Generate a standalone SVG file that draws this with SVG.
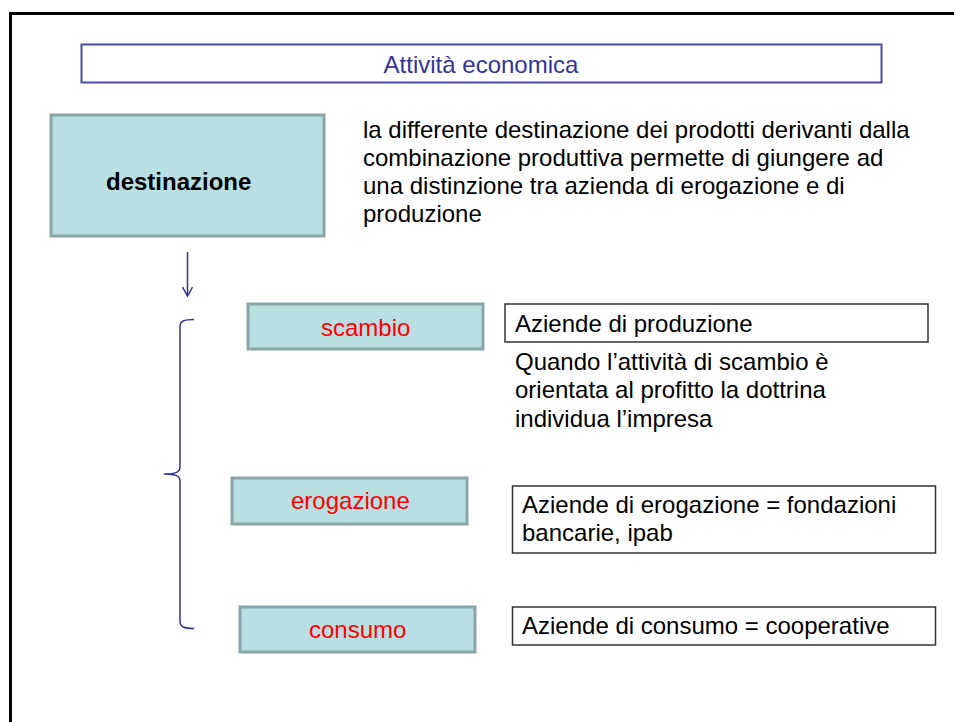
<svg xmlns="http://www.w3.org/2000/svg" width="954" height="722" viewBox="0 0 954 722">
<style>
text{font-family:"Liberation Sans",Arial,sans-serif;font-size:24px}
.teal{fill:#b9dfe2;stroke:#8aa5a8;stroke-width:3}
.red{fill:#ff0000}
.box{fill:#ffffff;stroke:#333333;stroke-width:1.5}
.blk{fill:#000000}
.conn{fill:none;stroke:#333399;stroke-width:1.5}
</style>
<defs>
<marker id="arr" markerWidth="12" markerHeight="12" refX="10" refY="6" orient="auto" markerUnits="userSpaceOnUse" viewBox="0 0 12 12">
<path d="M1,1 L10,6 L1,11" fill="none" stroke="#333399" stroke-width="1.5"/>
</marker>
</defs>
<rect width="954" height="722" fill="#ffffff"/>
<path d="M10.5,722 L10.5,13.5 L954,13.5" fill="none" stroke="#000000" stroke-width="3"/>
<g id="title">
<rect x="81.5" y="44.5" width="800" height="38" fill="#ffffff" stroke="#4b4ba6" stroke-width="2"/>
<text x="481" y="73" text-anchor="middle" fill="#333399">Attività economica</text>
</g>
<g id="destinazione">
<rect class="teal" x="51" y="115" width="273" height="121"/>
<text x="106" y="190" font-weight="bold" class="blk">destinazione</text>
</g>
<g id="descrizione">
<text class="blk" x="363" y="138">la differente destinazione dei prodotti derivanti dalla</text>
<text class="blk" x="363" y="166">combinazione produttiva permette di giungere ad</text>
<text class="blk" x="363" y="194">una distinzione tra azienda di erogazione e di</text>
<text class="blk" x="363" y="222">produzione</text>
</g>
<g id="scambio">
<rect class="teal" x="248" y="304" width="235" height="45"/>
<text class="red" x="321" y="336">scambio</text>
</g>
<g id="erogazione">
<rect class="teal" x="232" y="478" width="235" height="46"/>
<text class="red" x="291" y="509">erogazione</text>
</g>
<g id="consumo">
<rect class="teal" x="240" y="607" width="235" height="45"/>
<text class="red" x="309" y="638">consumo</text>
</g>
<g id="produzione">
<rect class="box" x="505" y="304" width="423" height="38"/>
<text class="blk" x="515" y="332">Aziende di produzione</text>
<text class="blk" x="515" y="370">Quando l’attività di scambio è</text>
<text class="blk" x="515" y="398">orientata al profitto la dottrina</text>
<text class="blk" x="515" y="427">individua l’impresa</text>
</g>
<g id="aziende-erogazione">
<rect class="box" x="512.5" y="486" width="423" height="67"/>
<text class="blk" x="522" y="513">Aziende di erogazione = fondazioni</text>
<text class="blk" x="522" y="541">bancarie, ipab</text>
</g>
<g id="aziende-consumo">
<rect class="box" x="512.5" y="607" width="423" height="38"/>
<text class="blk" x="522" y="634">Aziende di consumo = cooperative</text>
</g>
<g id="connectors">
<path class="conn" d="M187.5,252 L187.5,296" marker-end="url(#arr)"/>
<path class="conn" d="M194,319.5 C184,319.5 180,321 180,327 L180,467 C180,472 176,474 164,474 C176,474 180,476 180,481 L180,621 C180,627 184,628.5 194,628.5"/>
</g>
</svg>
